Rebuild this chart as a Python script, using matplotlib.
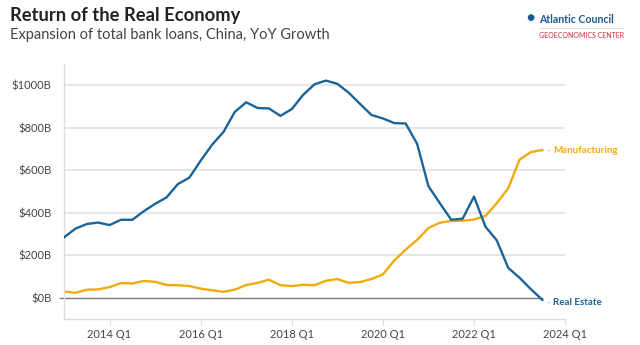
import numpy as np
import matplotlib
matplotlib.use("Agg")
import matplotlib.pyplot as plt

# quarterly, 2013 Q1 .. 2023 Q3 (decimal years)
quarters = np.arange(2013.0, 2023.51, 0.25)
real_estate = [284, 325, 347, 354, 342, 367, 367, 407, 442, 472, 535, 565,
               645, 720, 780, 875, 920, 893, 891, 856, 888, 955, 1005, 1022,
               1007, 965, 912, 860, 844, 822, 820, 725, 525, 445, 367, 372,
               476, 335, 270, 141, 94, 40, -10]
manufacturing = [30, 23, 38, 39, 50, 69, 67, 79, 75, 60, 59, 55,
                 43, 35, 28, 38, 60, 70, 85, 59, 55, 61, 59, 80,
                 88, 70, 74, 88, 110, 175, 226, 272, 328, 353, 362, 362,
                 368, 385, 445, 515, 650, 686, 695]
tick_years = [2014, 2016, 2018, 2020, 2022, 2024]
tick_labels = ["%d Q1" % y for y in tick_years]
y_ticks = [0, 200, 400, 600, 800, 1000]

BLUE = "#1c6497"
ORANGE = "#f2ab0f"
plt.rcParams['font.family'] = ['Lato', 'DejaVu Sans']

fig = plt.figure(figsize=(6.4, 3.45), dpi=100)
ax = fig.add_axes([0.1, 0.0754, 0.783, 0.739])

for y in y_ticks[1:]:
    ax.axhline(y, color="#e4e4e4", lw=1.3, zorder=0)
ax.plot([2012.92, quarters[-1]], [0, 0], color="#7a7a7a", lw=1.0, zorder=1,
        clip_on=False)

ax.plot(quarters, real_estate, color=BLUE, lw=1.7, zorder=3,
        solid_joinstyle="round")
ax.plot(quarters, manufacturing, color=ORANGE, lw=1.7, zorder=2,
        solid_joinstyle="round")

# end labels
ax.annotate("- ", (quarters[-1], manufacturing[-1]), xytext=(3, 0),
            textcoords="offset points", va="center", color="#aaaaaa", fontsize=7)
ax.annotate("Manufacturing", (quarters[-1], manufacturing[-1]), xytext=(8, 0),
            textcoords="offset points", va="center", color=ORANGE,
            fontsize=7, fontweight="bold")
ax.annotate("- ", (quarters[-1], real_estate[-1]), xytext=(3, -2),
            textcoords="offset points", va="center", color="#aaaaaa", fontsize=7)
ax.annotate("Real Estate", (quarters[-1], real_estate[-1]), xytext=(8, -2),
            textcoords="offset points", va="center", color=BLUE,
            fontsize=7, fontweight="bold")

ax.set_xlim(2013.0, 2024.0)
ax.set_ylim(-100, 1100)
ax.set_xticks(tick_years)
ax.set_xticklabels(tick_labels)
ax.set_yticks(y_ticks)
ax.set_yticklabels(["$%dB" % v for v in y_ticks])
ax.tick_params(axis="x", length=4, color="#dddddd", labelsize=8,
               labelcolor="#444444", pad=3)
ax.tick_params(axis="y", length=0, labelsize=8, labelcolor="#444444", pad=9)
for s in ["top", "right"]:
    ax.spines[s].set_visible(False)
for s in ["left", "bottom"]:
    ax.spines[s].set_color("#dddddd")
    ax.spines[s].set_linewidth(1.0)

fig.text(0.016, 0.955, "Return of the Real Economy", fontsize=13.2,
         fontweight="bold", color="#222222", va="center")
fig.text(0.016, 0.9, "Expansion of total bank loans, China, YoY Growth",
         fontsize=10.5, color="#444444", va="center")

# logo
fig.text(0.829, 0.948, "\u25cf", fontsize=10, color="#1a5a94", va="center",
         ha="center")
fig.text(0.842, 0.944, "Atlantic Council", fontsize=7.6, fontweight="bold",
         color="#1a5a94", va="center")
fig.add_artist(plt.Line2D([0.842, 0.975], [0.918, 0.918], color="#dddddd",
                          lw=0.6, transform=fig.transFigure))
fig.text(0.842, 0.898, "GEOECONOMICS CENTER", fontsize=5, color="#c8323c",
         va="center")

fig.savefig("out.png", dpi=100)
